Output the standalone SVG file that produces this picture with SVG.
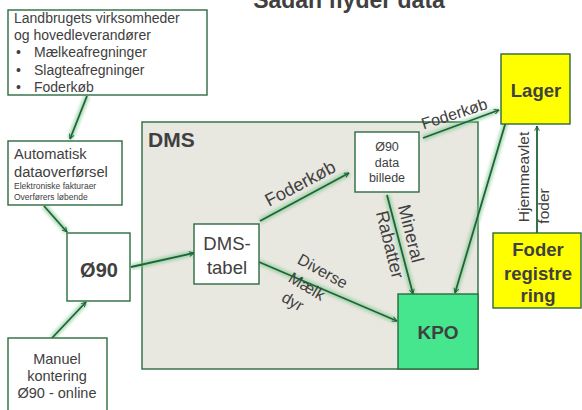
<svg xmlns="http://www.w3.org/2000/svg" width="582" height="410" viewBox="0 0 582 410">
<style>
  .box{fill:#ffffff;stroke:#2b6b3f;stroke-width:1.4}
  .t{font-family:"Liberation Sans",Arial,sans-serif;fill:#404040}
  .b{font-weight:bold}
  .glow{stroke:#7fc98f;stroke-width:6;fill:none;opacity:0.6;filter:url(#blur)}
  .ln{stroke:#1d6437;stroke-width:1.8;fill:none;marker-end:url(#arr)}
</style>
<defs>
  <filter id="blur" x="-20%" y="-20%" width="140%" height="140%"><feGaussianBlur stdDeviation="1.5"/></filter>
  <marker id="arr" viewBox="0 0 10 10" refX="9" refY="5" markerWidth="6" markerHeight="6" orient="auto" markerUnits="userSpaceOnUse">
    <path d="M1,1 L9,5 L1,9" fill="none" stroke="#1d6437" stroke-width="1.6"/>
  </marker>
</defs>
<rect width="582" height="410" fill="#ffffff"/>
<text class="t b" x="349" y="8" font-size="23" text-anchor="middle">Sådan flyder data</text>

<g id="dms">
  <rect x="142" y="122" width="336" height="247" fill="#e8e7e0" stroke="#2b6b3f" stroke-width="1.4"/>
  <text class="t b" x="148" y="147" font-size="21">DMS</text>
</g>

<g id="connectors">
  <line class="glow" x1="87" y1="96" x2="70" y2="139"/>
  <line class="ln" x1="87" y1="96" x2="70" y2="139"/>
  <line class="glow" x1="44" y1="206" x2="67" y2="232"/>
  <line class="ln" x1="44" y1="206" x2="67" y2="232"/>
  <line class="glow" x1="131" y1="267" x2="194" y2="253"/>
  <line class="ln" x1="131" y1="267" x2="194" y2="253"/>
  <line class="glow" x1="52" y1="338" x2="86" y2="302"/>
  <line class="ln" x1="52" y1="338" x2="86" y2="302"/>
  <line class="glow" x1="260" y1="221" x2="349" y2="173"/>
  <line class="ln" x1="260" y1="221" x2="349" y2="173"/>
  <line class="glow" x1="259" y1="262" x2="397" y2="321"/>
  <line class="ln" x1="259" y1="262" x2="397" y2="321"/>
  <line class="glow" x1="387" y1="195" x2="413" y2="294"/>
  <line class="ln" x1="387" y1="195" x2="413" y2="294"/>
  <line class="glow" x1="423" y1="138" x2="499" y2="110"/>
  <line class="ln" x1="423" y1="138" x2="499" y2="110"/>
  <line class="glow" x1="507" y1="118" x2="455" y2="293"/>
  <line class="ln" x1="507" y1="118" x2="455" y2="293"/>
  <line class="glow" x1="537" y1="233" x2="537" y2="126"/>
  <line class="ln" x1="537" y1="233" x2="537" y2="126"/>
  <text class="t" font-size="18" text-anchor="middle" transform="translate(303,189) rotate(-28)">Foderkøb</text>
  <text class="t" font-size="16" text-anchor="middle" transform="translate(320,276) rotate(29)">Diverse</text>
  <text class="t" font-size="16" text-anchor="middle" transform="translate(304,291) rotate(31)">Mælk</text>
  <text class="t" font-size="16" text-anchor="middle" transform="translate(290,306) rotate(30)">dyr</text>
  <text class="t" font-size="18" text-anchor="middle" transform="translate(405,235) rotate(76)">Mineral</text>
  <text class="t" font-size="18" text-anchor="middle" transform="translate(384,246) rotate(76)">Rabatter</text>
  <text class="t" font-size="16" text-anchor="middle" transform="translate(456,119) rotate(-18)">Foderkøb</text>
  <text class="t" font-size="15.5" text-anchor="middle" transform="translate(529,177) rotate(-90)">Hjemmeavlet</text>
  <text class="t" font-size="15.5" text-anchor="middle" transform="translate(549,206) rotate(-90)">foder</text>
</g>

<g id="landbrug">
  <rect class="box" x="8" y="10" width="199" height="85"/>
  <text class="t" x="14" y="23" font-size="14">Landbrugets virksomheder</text>
  <text class="t" x="14" y="40" font-size="14">og hovedleverandører</text>
  <text class="t" x="16" y="57" font-size="14">•</text>
  <text class="t" x="34" y="57" font-size="14">Mælkeafregninger</text>
  <text class="t" x="16" y="75" font-size="14">•</text>
  <text class="t" x="34" y="75" font-size="14">Slagteafregninger</text>
  <text class="t" x="16" y="92" font-size="14">•</text>
  <text class="t" x="34" y="92" font-size="14">Foderkøb</text>
</g>

<g id="auto">
  <rect class="box" x="8" y="141" width="114" height="64"/>
  <text class="t" x="14" y="159" font-size="14.7">Automatisk</text>
  <text class="t" x="14" y="177" font-size="14.7">dataoverførsel</text>
  <text class="t" x="14" y="189" font-size="8.5">Elektroniske fakturaer</text>
  <text class="t" x="14" y="200" font-size="8.5">Overførers løbende</text>
</g>

<g id="o90">
  <rect class="box" x="67" y="233" width="63" height="68"/>
  <text class="t b" x="99" y="277" font-size="20" text-anchor="middle">Ø90</text>
</g>

<g id="manuel">
  <rect class="box" x="8" y="338" width="99" height="80"/>
  <text class="t" x="57" y="364" font-size="14.5" text-anchor="middle">Manuel</text>
  <text class="t" x="57" y="381" font-size="14.5" text-anchor="middle">kontering</text>
  <text class="t" x="57" y="398" font-size="14.5" text-anchor="middle">Ø90 - online</text>
</g>

<g id="dmstabel">
  <rect class="box" x="194" y="224" width="65" height="60"/>
  <text class="t" x="227" y="250" font-size="18.5" text-anchor="middle">DMS-</text>
  <text class="t" x="227" y="274" font-size="18.5" text-anchor="middle">tabel</text>
</g>

<g id="o90data">
  <rect class="box" x="355" y="132" width="64" height="60"/>
  <text class="t" x="387" y="151" font-size="12.5" text-anchor="middle">Ø90</text>
  <text class="t" x="387" y="167" font-size="12.5" text-anchor="middle">data</text>
  <text class="t" x="387" y="182" font-size="12.5" text-anchor="middle">billede</text>
</g>

<g id="kpo">
  <rect x="398" y="294" width="80" height="75" fill="#45e68e" stroke="#2b6b3f" stroke-width="1.4"/>
  <text class="t b" x="438" y="339" font-size="19" text-anchor="middle">KPO</text>
</g>

<g id="lager">
  <rect x="501" y="54" width="69" height="70" fill="#ffff00" stroke="#2b6b3f" stroke-width="1.4"/>
  <text class="t b" x="536" y="97" font-size="18.5" text-anchor="middle">Lager</text>
</g>

<g id="foderreg">
  <rect x="493" y="233" width="88" height="75" fill="#ffff00" stroke="#2b6b3f" stroke-width="1.4"/>
  <text class="t b" x="538" y="256" font-size="18.5" text-anchor="middle">Foder</text>
  <text class="t b" x="538" y="280" font-size="18.5" text-anchor="middle">registre</text>
  <text class="t b" x="538" y="302" font-size="18.5" text-anchor="middle">ring</text>
</g>
</svg>
